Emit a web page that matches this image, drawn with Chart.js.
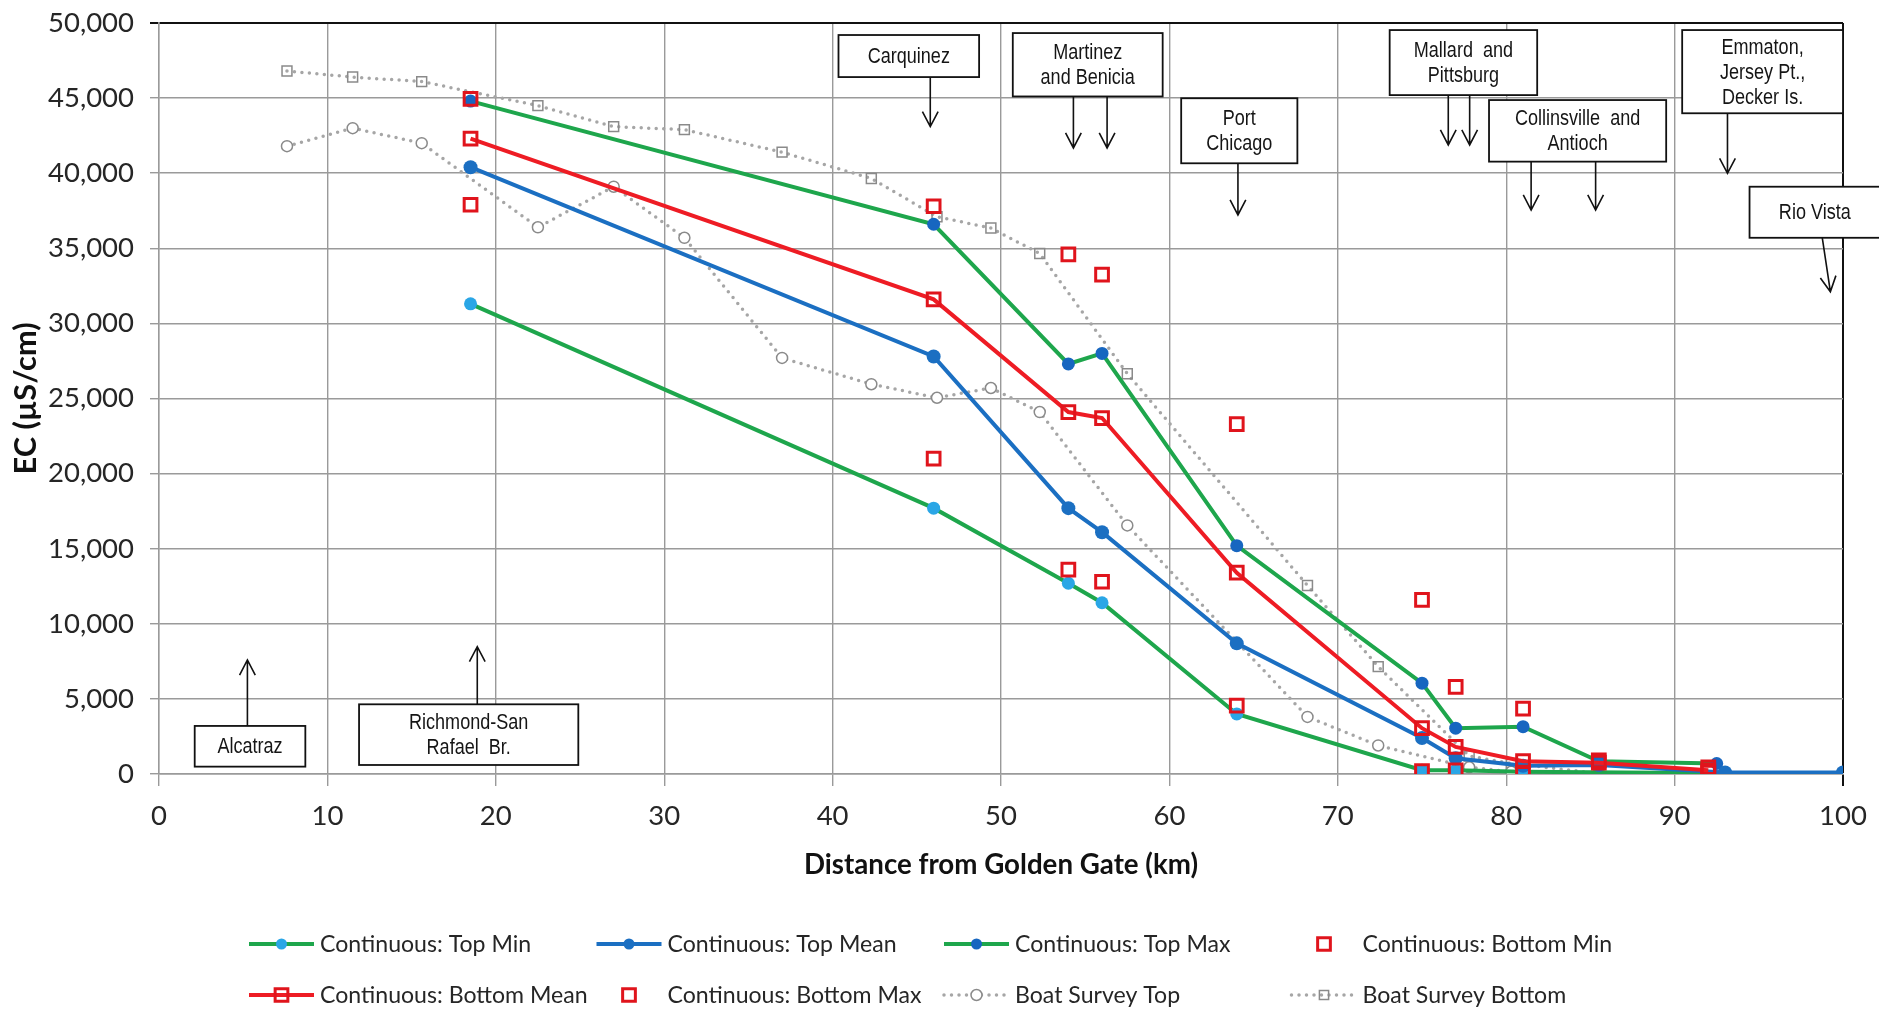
<!DOCTYPE html>
<html>
<head>
<meta charset="utf-8">
<title>EC vs distance from Golden Gate</title>
<script src="https://cdn.jsdelivr.net/npm/chart.js@4.4.1/dist/chart.umd.min.js"></script>
<style>
  html, body { margin: 0; padding: 0; background: #ffffff; }
  #wrap { width: 1879px; height: 1009px; }
</style>
</head>
<body>
<div id="wrap"><canvas id="c" width="1879" height="1009"></canvas></div>
<script>
// ---- data: distance from Golden Gate (km) and EC (µS/cm) ----
const topMinX  = [18.5, 46, 54, 56, 64, 75, 77, 81, 93, 100];
const topMinY  = [31300, 17700, 12700, 11400, 4000, 250, 250, 150, 50, 50];

const topMeanX = [18.5, 46, 54, 56, 64, 75, 77, 81, 85.5, 93, 100];
const topMeanY = [40400, 27800, 17700, 16100, 8700, 2400, 1050, 550, 600, 100, 100];

const topMaxX  = [18.5, 46, 54, 56, 64, 75, 77, 81, 85.5, 92.5];
const topMaxY  = [44800, 36600, 27300, 28000, 15200, 6050, 3050, 3150, 850, 700];

const botMinX  = [18.5, 46, 54, 56, 64, 75, 77, 81, 92];
const botMinY  = [37900, 21000, 13600, 12800, 4550, 200, 250, 100, 100];

const botMeanX = [18.5, 46, 54, 56, 64, 75, 77, 81, 85.5, 92];
const botMeanY = [42300, 31600, 24100, 23700, 13400, 3050, 1800, 850, 750, 250];

const botMaxX  = [18.5, 46, 54, 56, 64, 75, 77, 81, 85.5, 92];
const botMaxY  = [44950, 37800, 34600, 33250, 23300, 11600, 5800, 4350, 900, 450];

const boatX      = [7.6, 11.5, 15.6, 22.5, 27, 31.2, 37, 42.3, 46.2, 49.4, 52.3, 57.5, 68.2, 72.4, 77.8, 80.3, 85.5, 100];
const boatTopY   = [41800, 43000, 42000, 36400, 39100, 35700, 27700, 25950, 25050, 25700, 24100, 16550, 3800, 1900, 450, 150, 30, 50];
const boatBotY   = [46800, 46400, 46100, 44500, 43100, 42900, 41400, 39650, 37100, 36350, 34650, 26650, 12550, 7150, 1200, 700, 40, 0];

const seriesNames = [
  'Continuous: Top Min', 'Continuous: Top Mean', 'Continuous: Top Max', 'Continuous: Bottom Min',
  'Continuous: Bottom Mean', 'Continuous: Bottom Max', 'Boat Survey Top', 'Boat Survey Bottom'
];

const xRange = [0, 100], xStep = 10;
const yRange = [0, 50000], yStep = 5000;
const xTitle = 'Distance from Golden Gate (km)';
const yTitle = 'EC (µS/cm)';

// ---- station call-outs (text, box extent and arrows in axis units) ----
const stationNotes = [
  { text: ['Carquinez'], x0: 40.35, x1: 48.7, yTop: 49200, yBot: 46400, arrows: [[45.8, 46400, 45.8, 43100]] },
  { text: ['Martinez', 'and Benicia'], x0: 50.7, x1: 59.6, yTop: 49330, yBot: 45110,
    arrows: [[54.3, 45110, 54.3, 41680], [56.3, 45110, 56.3, 41680]] },
  { text: ['Port', 'Chicago'], x0: 60.7, x1: 67.6, yTop: 44990, yBot: 40660, arrows: [[64.07, 40660, 64.07, 37220]] },
  { text: ['Mallard  and', 'Pittsburg'], x0: 73.08, x1: 81.84, yTop: 49530, yBot: 45200,
    arrows: [[76.56, 45200, 76.56, 41880], [77.83, 45200, 77.83, 41880]] },
  { text: ['Collinsville  and', 'Antioch'], x0: 78.98, x1: 89.5, yTop: 44870, yBot: 40770,
    arrows: [[81.48, 40770, 81.48, 37550], [85.31, 40770, 85.31, 37550]] },
  { text: ['Emmaton,', 'Jersey Pt.,', 'Decker Is.'], x0: 90.45, x1: 100, yTop: 49530, yBot: 43990,
    arrows: [[93.14, 43990, 93.14, 39990]] },
  { text: ['Rio Vista'], x0: 94.45, x1: 102.2, yTop: 39100, yBot: 35700, arrows: [[98.77, 35700, 99.25, 32110]] },
  { text: ['Alcatraz'], x0: 2.12, x1: 8.69, yTop: 3200, yBot: 490, arrows: [[5.25, 3200, 5.25, 7590]] },
  { text: ['Richmond-San', 'Rafael  Br.'], x0: 11.88, x1: 24.9, yTop: 4640, yBot: 600, arrows: [[18.9, 4640, 18.9, 8480]] }
];

// ---- fonts: size each family so a reference string spans a given width ----
const SANS = "Lato, 'Open Sans', sans-serif";
const NOTE_FONT = "'Liberation Sans', Arial, sans-serif";
const measure = document.createElement('canvas').getContext('2d');
function sizeFor(text, weight, family, width) {
  measure.font = weight + ' 100px ' + family;
  return Math.round(1000 * width / measure.measureText(text).width) / 10;
}
const tickSize   = sizeFor('50,000', 'normal', SANS, 86);
const xTitleSize = sizeFor(xTitle, 'bold', SANS, 395);
const yTitleSize = sizeFor(yTitle, 'bold', SANS, 152);
const legendSize = sizeFor(seriesNames[0], 'normal', SANS, 211);

// ---- styling ----
const GREEN = '#1ea64c', BLUE = '#1b6fc2', LIGHT_BLUE = '#2aa6e6', DARK_BLUE = '#1766c0';
const RED = '#ee1c24', RED_SQ = '#e0141c', GREY = '#a6a6a6', GREY_MK = '#8a8a8a';
const GRID = '#9a9a9a', FRAME = '#111111', TEXT = '#262626';

const pts = (xs, ys) => xs.map((x, i) => ({ x: x, y: ys[i] }));

const solidLine = (label, xs, ys, lineColor, markerColor, r, order) => ({
  label, data: pts(xs, ys), showLine: true, borderColor: lineColor, borderWidth: 4,
  pointStyle: 'circle', pointRadius: r, pointBackgroundColor: markerColor,
  pointBorderColor: markerColor, pointBorderWidth: 0, order
});

const redSquares = (label, xs, ys, withLine, order) => ({
  label, data: pts(xs, ys), showLine: withLine, borderColor: RED, borderWidth: 4,
  pointStyle: 'rect', pointRadius: 9, pointBackgroundColor: 'rgba(0,0,0,0)',
  pointBorderColor: RED_SQ, pointBorderWidth: 3, order
});

const dotted = (label, xs, ys, style, r, fill, order) => ({
  label, data: pts(xs, ys), showLine: true, borderColor: GREY, borderWidth: 3.5,
  borderDash: [0, 7.5], borderCapStyle: 'round',
  pointStyle: style, pointRadius: r, pointBackgroundColor: fill,
  pointBorderColor: GREY_MK, pointBorderWidth: 1.5, order
});

const datasets = [
  solidLine(seriesNames[0], topMinX, topMinY, GREEN, LIGHT_BLUE, 6.5, 3),
  solidLine(seriesNames[1], topMeanX, topMeanY, BLUE, BLUE, 7, 2),
  solidLine(seriesNames[2], topMaxX, topMaxY, GREEN, DARK_BLUE, 6.5, 3),
  redSquares(seriesNames[3], botMinX, botMinY, false, 1),
  redSquares(seriesNames[4], botMeanX, botMeanY, true, 1),
  redSquares(seriesNames[5], botMaxX, botMaxY, false, 1),
  dotted(seriesNames[6], boatX, boatTopY, 'circle', 5.5, '#ffffff', 4),
  dotted(seriesNames[7], boatX, boatBotY, 'rect', 7, 'rgba(0,0,0,0)', 4)
];

// ---- drawing helpers ----
function marker(ctx, ds, x, y, r) {
  ctx.save();
  ctx.setLineDash([]);
  ctx.beginPath();
  if (ds.pointStyle === 'rect') {
    const s = r * Math.SQRT1_2;
    ctx.rect(x - s, y - s, 2 * s, 2 * s);
  } else {
    ctx.arc(x, y, r, 0, Math.PI * 2);
  }
  ctx.fillStyle = ds.pointBackgroundColor;
  ctx.fill();
  if (ds.pointBorderWidth > 0) {
    ctx.lineWidth = ds.pointBorderWidth;
    ctx.strokeStyle = ds.pointBorderColor;
    ctx.stroke();
  }
  ctx.restore();
}

function arrow(ctx, x1, y1, x2, y2) {
  const ang = Math.atan2(y2 - y1, x2 - x1);
  const len = 17, spread = 0.48;
  ctx.beginPath();
  ctx.moveTo(x1, y1); ctx.lineTo(x2, y2);
  ctx.moveTo(x2 - len * Math.cos(ang - spread), y2 - len * Math.sin(ang - spread));
  ctx.lineTo(x2, y2);
  ctx.lineTo(x2 - len * Math.cos(ang + spread), y2 - len * Math.sin(ang + spread));
  ctx.stroke();
}

// narrow text: regular face squeezed horizontally
function narrowText(ctx, text, x, y, squeeze) {
  ctx.save();
  ctx.translate(x, y);
  ctx.scale(squeeze, 1);
  ctx.fillText(text, 0, 0);
  ctx.restore();
}

// ---- plugin: boxed station labels with arrows ----
const stationPlugin = {
  id: 'stationNotes',
  afterDatasetsDraw(chart) {
    const ctx = chart.ctx, xs = chart.scales.x, ys = chart.scales.y;
    ctx.save();
    ctx.strokeStyle = '#111';
    ctx.font = '22px ' + NOTE_FONT;
    ctx.textAlign = 'center';
    ctx.textBaseline = 'middle';
    stationNotes.forEach(n => {
      const L = xs.getPixelForValue(n.x0), R = xs.getPixelForValue(n.x1);
      const T = ys.getPixelForValue(n.yTop), B = ys.getPixelForValue(n.yBot);
      ctx.lineWidth = 1.8;
      ctx.fillStyle = '#ffffff';
      ctx.fillRect(L, T, R - L, B - T);
      ctx.strokeRect(L, T, R - L, B - T);
      ctx.fillStyle = '#151515';
      const lh = 25, cx = (L + R) / 2, cy = (T + B) / 2;
      n.text.forEach((t, i) => narrowText(ctx, t, cx, cy + 1 + (i - (n.text.length - 1) / 2) * lh, 0.82));
      ctx.lineWidth = 1.6;
      n.arrows.forEach(a => arrow(ctx,
        xs.getPixelForValue(a[0]), ys.getPixelForValue(a[1]),
        xs.getPixelForValue(a[2]), ys.getPixelForValue(a[3])));
    });
    ctx.restore();
  }
};

// ---- plugin: legend laid out as a 4-column grid under the chart ----
const gridLegend = {
  id: 'gridLegend',
  afterDraw(chart) {
    const ctx = chart.ctx;
    const cols = 4, colW = 347.5, left = 249, rows = [944, 995], sample = 65;
    ctx.save();
    chart.data.datasets.forEach((ds, i) => {
      const x = left + (i % cols) * colW, y = rows[Math.floor(i / cols)];
      if (ds.showLine) {
        ctx.save();
        ctx.strokeStyle = ds.borderColor;
        ctx.lineWidth = ds.borderWidth;
        ctx.lineCap = ds.borderCapStyle || 'butt';
        ctx.setLineDash(ds.borderDash || []);
        ctx.beginPath();
        ctx.moveTo(x, y); ctx.lineTo(x + sample, y);
        ctx.stroke();
        ctx.restore();
      }
      const r = ds.pointStyle === 'rect' ? (ds.pointBorderColor === GREY_MK ? 6.5 : 9) : 5.5;
      marker(ctx, ds, x + sample / 2, y, r);
      ctx.fillStyle = TEXT;
      ctx.font = legendSize + 'px ' + SANS;
      ctx.textAlign = 'left';
      ctx.textBaseline = 'middle';
      ctx.fillText(ds.label, x + sample + 6, y + 1);
    });
    ctx.restore();
  }
};

const isVal = (c, v) => c.tick && c.tick.value === v;

new Chart(document.getElementById('c'), {
  type: 'scatter',
  data: { datasets },
  plugins: [stationPlugin, gridLegend],
  options: {
    responsive: false,
    animation: false,
    devicePixelRatio: 1,
    elements: { line: { tension: 0 } },
    layout: { padding: { left: 0, right: 36, top: 23, bottom: 115 } },
    plugins: { legend: { display: false }, tooltip: { enabled: false } },
    scales: {
      x: {
        type: 'linear', min: xRange[0], max: xRange[1],
        ticks: { stepSize: xStep, color: TEXT, font: { family: SANS, size: tickSize }, padding: 14, maxRotation: 0 },
        grid: {
          color: c => isVal(c, xRange[1]) ? FRAME : GRID,
          lineWidth: c => isVal(c, xRange[1]) ? 2 : 1.4,
          tickLength: 12
        },
        border: { display: true, color: GRID, width: 1.4 },
        title: { display: true, text: xTitle, color: '#111',
                 font: { family: SANS, size: xTitleSize, weight: 'bold' }, padding: { top: 4, bottom: 12 } },
        afterFit: s => { s.height = 120; s.paddingLeft = 0; s.paddingRight = 0; }
      },
      y: {
        type: 'linear', min: yRange[0], max: yRange[1],
        ticks: { stepSize: yStep, color: TEXT, font: { family: SANS, size: tickSize }, padding: 16,
                 callback: v => v.toLocaleString('en-US') },
        grid: {
          color: c => isVal(c, yRange[1]) ? FRAME : GRID,
          lineWidth: c => isVal(c, yRange[1]) ? 2 : 1.4,
          tickLength: 9
        },
        border: { display: true, color: GRID, width: 1.4 },
        title: { display: true, text: yTitle, color: '#111',
                 font: { family: SANS, size: yTitleSize, weight: 'bold' }, padding: { top: 8, bottom: 4 } },
        afterFit: s => { s.width = 159; s.paddingTop = 0; s.paddingBottom = 0; }
      }
    }
  }
});
</script>
</body>
</html>
